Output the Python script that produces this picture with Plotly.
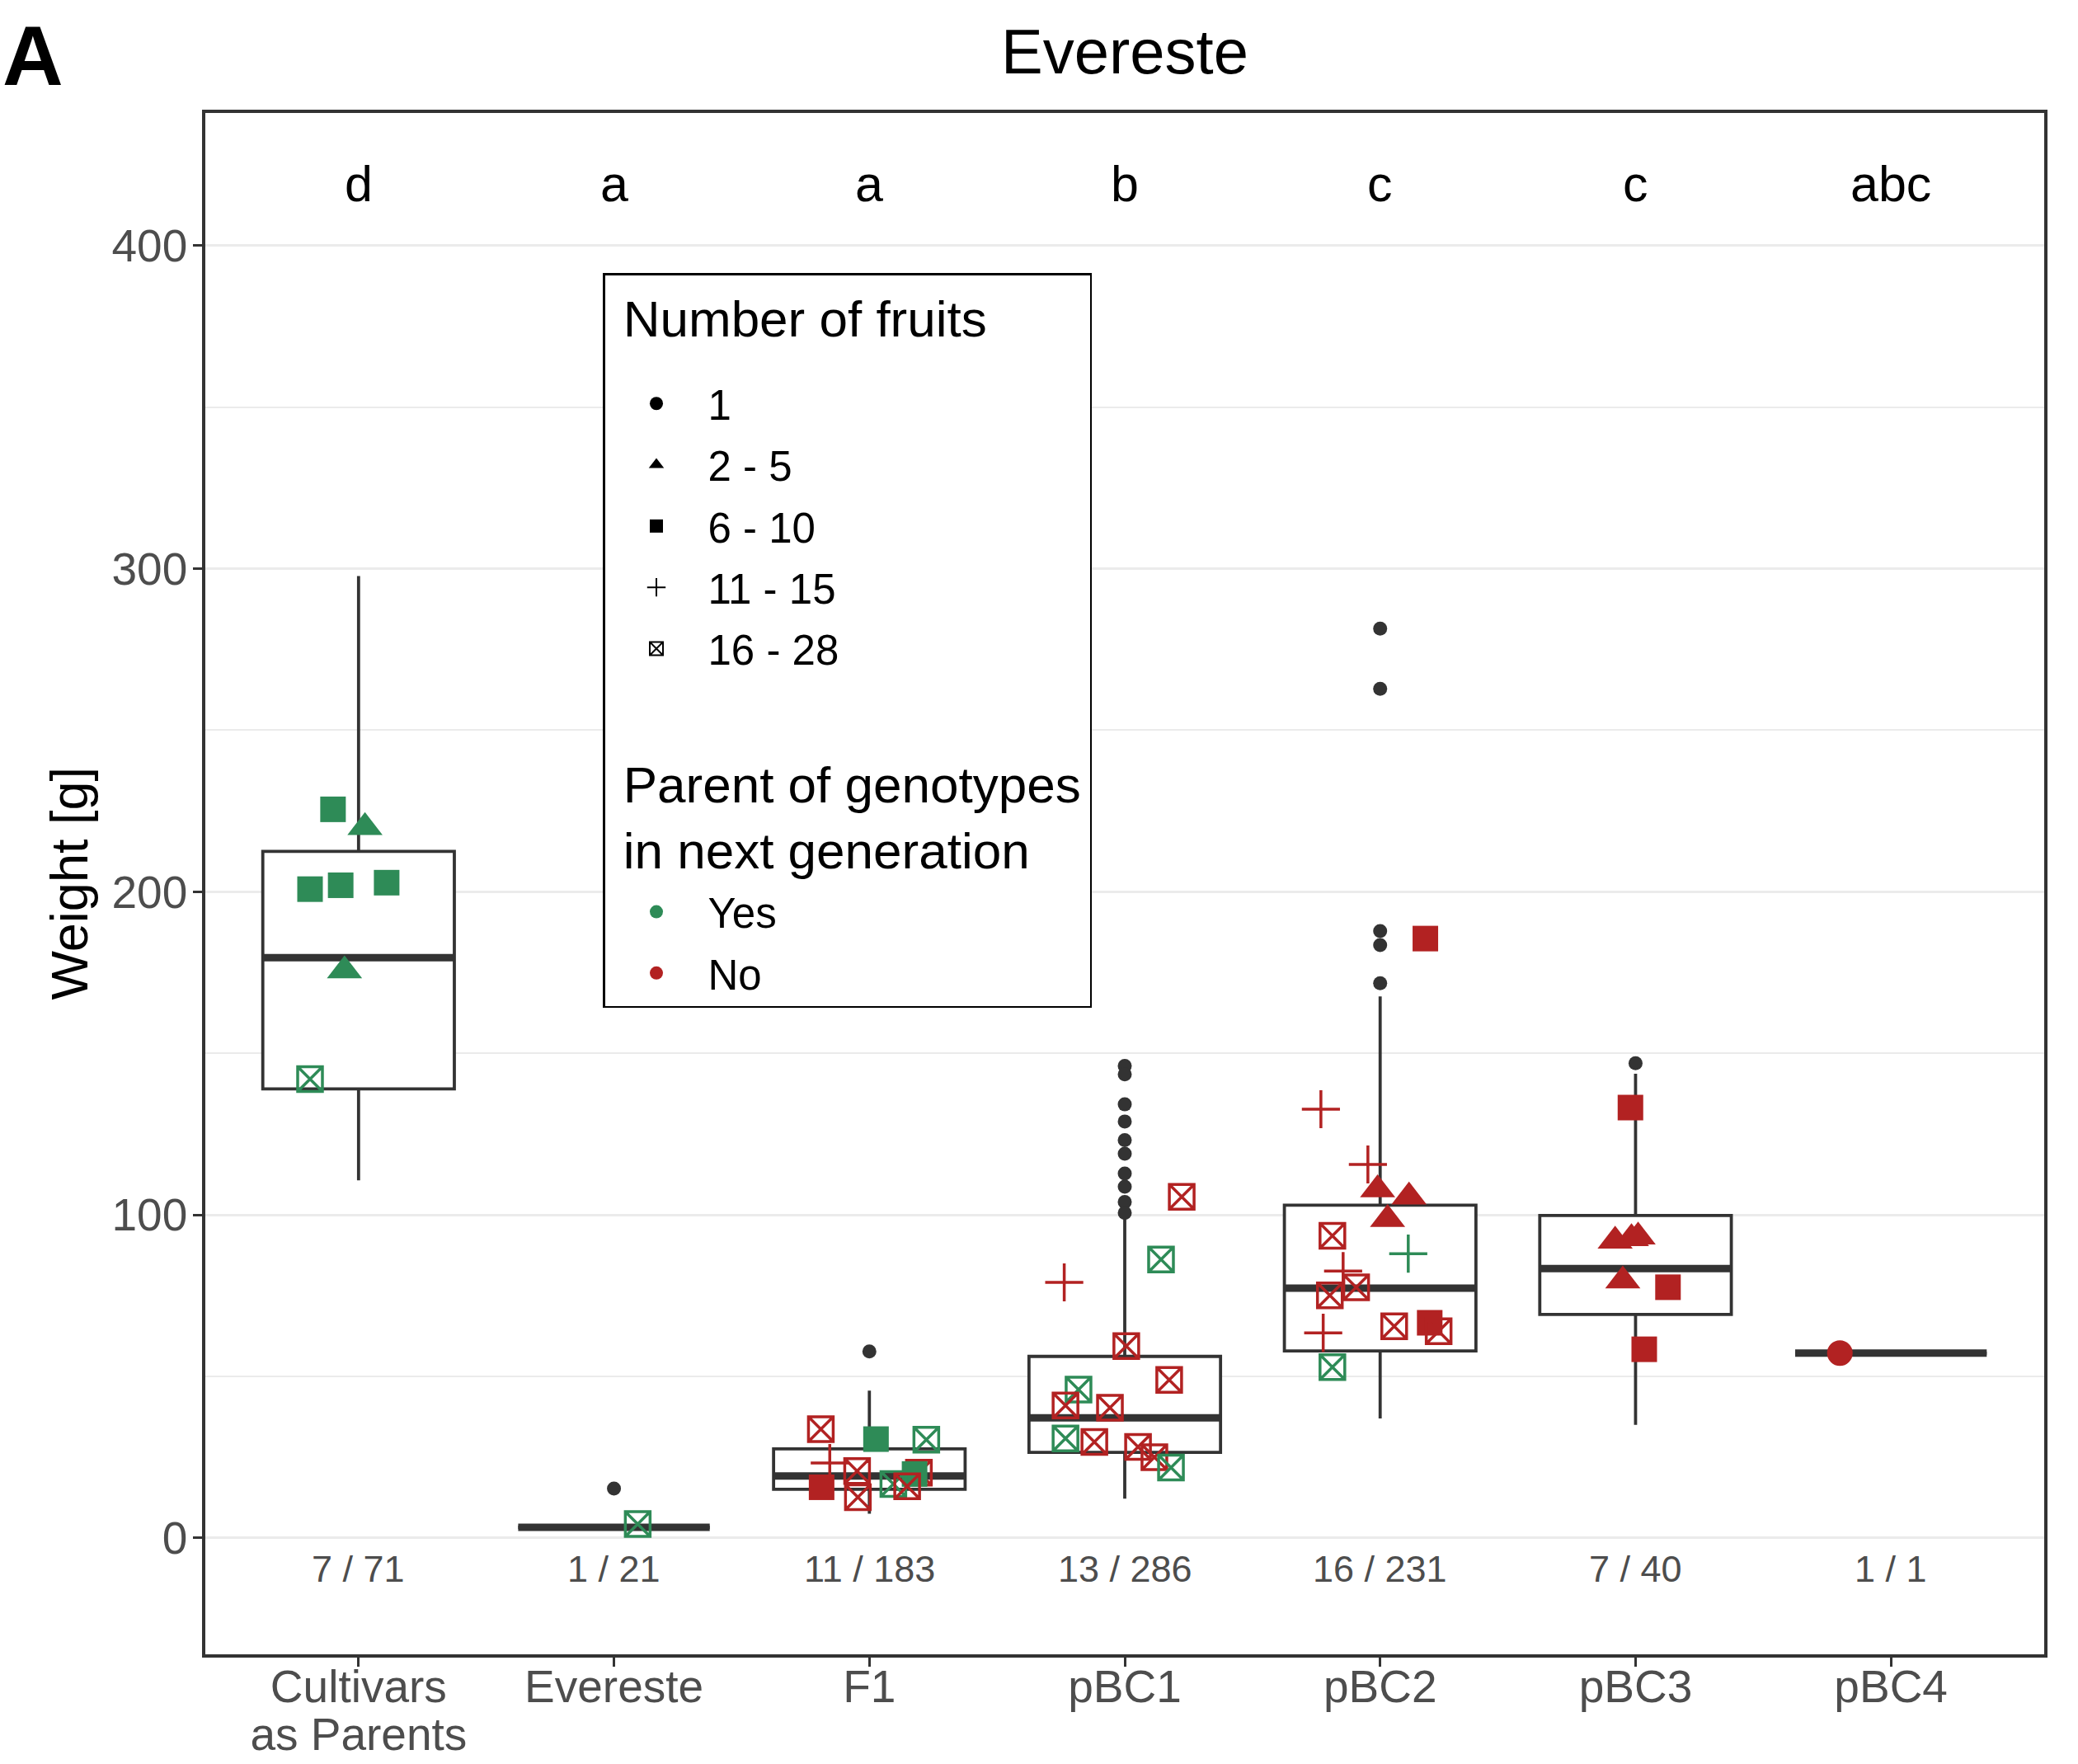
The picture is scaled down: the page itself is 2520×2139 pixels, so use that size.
import numpy as np
import plotly.graph_objects as go

# ---------------- data ----------------
categories = ["Cultivars<br>as Parents", "Evereste", "F1", "pBC1", "pBC2", "pBC3", "pBC4"]
letters = ["d", "a", "a", "b", "c", "c", "abc"]
counts = ["7 / 71", "1 / 21", "11 / 183", "13 / 286", "16 / 231", "7 / 40", "1 / 1"]

# box statistics per category
box_lower = [110.7, 3.3, 7.5, 12.2, 37.0, 35.0, 57.2]
box_q1 = [139.0, 3.3, 15.1, 26.5, 57.9, 69.2, 57.2]
box_median = [179.6, 3.3, 19.2, 37.2, 77.3, 83.4, 57.2]
box_q3 = [212.5, 3.3, 27.6, 56.2, 103.0, 99.8, 57.2]
box_upper = [297.7, 3.3, 45.6, 99.7, 167.6, 143.7, 57.2]

# box-plot outliers (category index, weight)
outlier_group = [1, 2,
                 3, 3, 3, 3, 3, 3, 3, 3, 3, 3,
                 4, 4, 4, 4, 4,
                 5]
outlier_weight = [15.3, 57.7,
                  146.1, 143.5, 134.2, 128.9, 123.1, 118.9, 112.8, 108.7, 104.0, 100.6,
                  171.7, 183.5, 187.8, 262.8, 281.4,
                  146.9]

# genotype means (category index, jitter offset, weight, number-of-fruits class, parent)
pt_group = ([0] * 7 + [1] + [2] * 11 + [3] * 13 + [4] * 16 + [5] * 7 + [6])
pt_jitter = [
    -0.10, 0.025, -0.19, -0.07, 0.11, -0.055, -0.19,
    0.093,
    -0.19, 0.026, 0.223, -0.155, -0.048, 0.194, 0.177, -0.187, 0.094, 0.148, -0.045,
    -0.237, 0.223, 0.142, 0.006, 0.174, -0.181, -0.232, -0.058, -0.232, -0.119, 0.052, 0.116, 0.181,
    0.177, -0.232, -0.048, -0.01, 0.113, 0.029, -0.187, 0.11, -0.145, -0.094, -0.197, -0.223, 0.055, 0.194, 0.229, -0.187,
    -0.02, -0.08, -0.016, 0.01, -0.05, 0.127, 0.034,
    -0.2,
]
pt_weight = [
    225.5, 219.9, 200.8, 202.0, 202.8, 175.6, 142.0,
    4.3,
    33.7, 30.6, 30.4, 23.2, 20.7, 20.2, 19.8, 15.7, 16.7, 16.0, 12.6,
    79.1, 105.6, 86.2, 59.4, 48.9, 45.9, 41.0, 40.3, 30.8, 29.7, 28.2, 25.0, 21.8,
    185.5, 132.7, 115.6, 107.8, 105.6, 98.6, 93.5, 88.0, 82.6, 77.6, 75.1, 63.5, 65.5, 66.6, 64.0, 52.9,
    133.2, 91.9, 92.7, 93.2, 79.6, 77.6, 58.4,
    57.2,
]
pt_fruits = [
    "6 - 10", "2 - 5", "6 - 10", "6 - 10", "6 - 10", "2 - 5", "16 - 28",
    "16 - 28",
    "16 - 28", "6 - 10", "16 - 28", "11 - 15", "16 - 28", "16 - 28", "6 - 10", "6 - 10", "16 - 28", "16 - 28", "16 - 28",
    "11 - 15", "16 - 28", "16 - 28", "16 - 28", "16 - 28", "16 - 28", "16 - 28", "16 - 28", "16 - 28", "16 - 28", "16 - 28", "16 - 28", "16 - 28",
    "6 - 10", "11 - 15", "11 - 15", "2 - 5", "2 - 5", "2 - 5", "16 - 28", "11 - 15", "11 - 15", "16 - 28", "16 - 28", "11 - 15", "16 - 28", "6 - 10", "16 - 28", "16 - 28",
    "6 - 10", "2 - 5", "2 - 5", "2 - 5", "2 - 5", "6 - 10", "6 - 10",
    "1",
]
pt_parent = [
    "Yes"] * 7 + ["Yes"] + [
    "No", "Yes", "Yes", "No", "No", "No", "Yes", "No", "Yes", "No", "No",
    "No", "No", "Yes", "No", "No", "Yes", "No", "No", "Yes", "No", "No", "No", "Yes",
    "No", "No", "No", "No", "No", "No", "No", "Yes", "No", "No", "No", "No", "No", "No", "No", "Yes",
    "No", "No", "No", "No", "No", "No", "No",
    "No",
]

fruit_classes = ["1", "2 - 5", "6 - 10", "11 - 15", "16 - 28"]
parent_classes = ["Yes", "No"]

# ---------------- styles ----------------
FONT = "Liberation Sans, Arial, Helvetica, sans-serif"
DARK = "#333333"
GREY_TXT = "#4D4D4D"
GRID = "#EBEBEB"
NB = "\u00a0"
parent_color = {"Yes": "#2E8B57", "No": "#B22222"}
fruit_symbol = {"1": "circle", "2 - 5": "triangle-up", "6 - 10": "square",
                "11 - 15": "cross-thin-open", "16 - 28": "square-x-open"}
fruit_size = {"1": 31, "2 - 5": 37, "6 - 10": 31, "11 - 15": 33, "16 - 28": 30}
fruit_lw = {"1": 0, "2 - 5": 0, "6 - 10": 0, "11 - 15": 3.5, "16 - 28": 3.5}
BOX_W = 0.75
TICK_PX = 55
LEG_TITLE_PX = 62


def sized(text, px):
    return "<span style='font-size:%dpx'>%s</span>" % (px, text)


def tick_text(label):
    return "<br>".join(sized(part, TICK_PX) for part in label.split("<br>"))


fig = go.Figure()

# boxes
xs = list(range(len(categories)))
fig.add_trace(go.Box(
    x=xs, q1=box_q1, median=box_median, q3=box_q3,
    lowerfence=box_lower, upperfence=box_upper,
    width=BOX_W, whiskerwidth=0, boxpoints=False,
    fillcolor="white", line=dict(color=DARK, width=3.8),
    showlegend=False, hoverinfo="skip",
))

# thick median segments
mx, my = [], []
for i, m in enumerate(box_median):
    mx += [i - BOX_W / 2, i + BOX_W / 2, None]
    my += [m, m, None]
fig.add_trace(go.Scatter(x=mx, y=my, mode="lines",
                         line=dict(color=DARK, width=9),
                         showlegend=False, hoverinfo="skip"))

# outliers
fig.add_trace(go.Scatter(x=outlier_group, y=outlier_weight, mode="markers",
                         marker=dict(color=DARK, size=17, symbol="circle", opacity=1),
                         showlegend=False, hoverinfo="skip"))

# jittered genotype points
px = np.array(pt_group, dtype=float) + np.array(pt_jitter)
fig.add_trace(go.Scatter(
    x=px, y=pt_weight, mode="markers",
    marker=dict(
        symbol=[fruit_symbol[f] for f in pt_fruits],
        size=[fruit_size[f] for f in pt_fruits],
        color=[parent_color[p] for p in pt_parent],
        opacity=1,
        line=dict(color=[parent_color[p] for p in pt_parent],
                  width=[fruit_lw[f] for f in pt_fruits]),
    ),
    showlegend=False, hoverinfo="skip",
))

# legend entries (one legend group per entry, so the spacing is uniform)
for k, f in enumerate(fruit_classes):
    grp_title = None
    if k == 0:
        grp_title = dict(text="<br>" + sized(NB + "Number of fruits", LEG_TITLE_PX) + "<br>",
                         font=dict(size=29, color="black", family=FONT))
    fig.add_trace(go.Scatter(
        x=[None], y=[None], mode="markers", name=f,
        legendgroup="fruits%d" % k,
        legendgrouptitle=grp_title,
        marker=dict(symbol=fruit_symbol[f], size=16, color="black", opacity=1,
                    line=dict(color="black", width=2 if fruit_lw[f] else 0)),
    ))
for k, p in enumerate(parent_classes):
    grp_title = None
    if k == 0:
        grp_title = dict(text="<br>" + NB + "Parent of genotypes<br>" + NB + "in next generation",
                         font=dict(size=LEG_TITLE_PX, color="black", family=FONT))
    fig.add_trace(go.Scatter(
        x=[None], y=[None], mode="markers", name=p,
        legendgroup="parent%d" % k,
        legendgrouptitle=grp_title,
        marker=dict(symbol="circle", size=16, color=parent_color[p], opacity=1),
    ))

# letters and counts
for i in xs:
    fig.add_annotation(x=i, y=419, text=letters[i], showarrow=False,
                       font=dict(size=61, color="black", family=FONT), yanchor="middle")
    fig.add_annotation(x=i, y=-9.5, text=counts[i], showarrow=False,
                       font=dict(size=45, color=GREY_TXT, family=FONT), yanchor="middle")

W, H = 2520, 2139
ml, mr, mt, mb = 249, 41, 137, 133
pw, ph = W - ml - mr, H - mt - mb

fig.add_annotation(xref="paper", yref="paper", x=(-ml + 1) / pw, y=(H - mb - 68) / ph,
                   text="<b>A</b>", showarrow=False, xanchor="left", yanchor="middle",
                   font=dict(size=102, color="black", family=FONT))
fig.add_annotation(xref="paper", yref="paper", x=(83 - ml) / pw, y=0.5,
                   text="Weight [g]", textangle=-90, showarrow=False,
                   xanchor="center", yanchor="middle",
                   font=dict(size=63, color="black", family=FONT))

fig.update_layout(
    width=W, height=H,
    margin=dict(l=ml, r=mr, t=mt, b=mb, autoexpand=False),
    paper_bgcolor="white", plot_bgcolor="white",
    font=dict(family=FONT, color="black"),
    title=dict(text="Evereste", x=0.5, xref="paper", y=1 - 62 / H, yanchor="middle",
               automargin=False,
               font=dict(size=76, color="black", family=FONT)),
    showlegend=True,
    legend=dict(x=(731 - ml) / pw, y=(H - mb - 331) / ph, xanchor="left", yanchor="top",
                bgcolor="white", bordercolor="black", borderwidth=2.5,
                font=dict(size=51, color="black", family=FONT),
                tracegroupgap=5, itemwidth=115, itemclick=False, itemdoubleclick=False),
    xaxis=dict(range=[-0.6, 6.6], tickvals=xs, ticktext=[tick_text(c) for c in categories],
               showgrid=False, zeroline=False, automargin=False,
               showline=True, mirror=True, linecolor=DARK, linewidth=3.5,
               ticks="outside", ticklen=11, tickwidth=3, tickcolor=DARK,
               ticklabelstandoff=-11,
               tickfont=dict(size=45, color=GREY_TXT, family=FONT)),
    yaxis=dict(range=[-36, 441], tickvals=[0, 100, 200, 300, 400],
               showgrid=True, gridcolor=GRID, gridwidth=2.5, zeroline=False, automargin=False,
               minor=dict(tickvals=[50, 150, 250, 350], showgrid=True, gridcolor=GRID, gridwidth=1.5),
               showline=True, mirror=True, linecolor=DARK, linewidth=3.5,
               ticks="outside", ticklen=11, tickwidth=3, tickcolor=DARK,
               ticklabelstandoff=-4,
               tickfont=dict(size=55, color=GREY_TXT, family=FONT)),
)

fig.write_html("out.html", config={"displayModeBar": False},
               post_script="document.body.style.margin='0px';")
